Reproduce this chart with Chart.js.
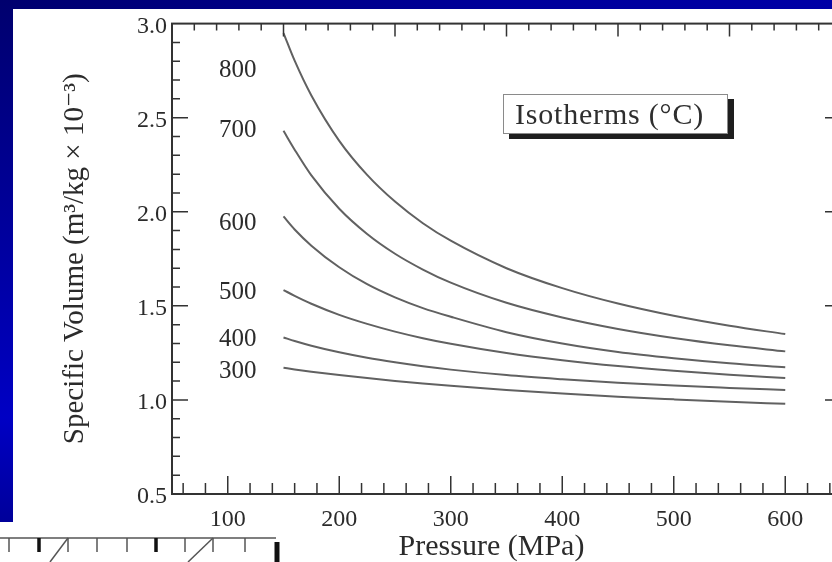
<!DOCTYPE html>
<html>
<head>
<meta charset="utf-8">
<script src="https://cdn.jsdelivr.net/npm/chart.js@4"></script>
<style>
  html, body { margin: 0; padding: 0; }
  body { width: 832px; height: 562px; overflow: hidden; position: relative; background: #fff; }
  .band-top { position: absolute; left: 0; top: 0; width: 832px; height: 9px;
    background: linear-gradient(to right, #00006e, #00009a 60%, #0000a6); }
  .band-left { position: absolute; left: 0; top: 0; width: 13px; height: 522px;
    background: linear-gradient(to bottom, #00006e, #0000a8 55%, #0000c4 80%, #00009a); }
  #chart { position: absolute; left: 13px; top: 9px; }
  .key { position: absolute; left: 503px; top: 94px; width: 225px; height: 40px; box-sizing: border-box;
    padding-right: 12px; border: 1.5px solid #8a8a8a; background: #fff; box-shadow: 6px 5px 0 #1e1e1e;
    font: 30px "Liberation Serif", serif; letter-spacing: 0.8px; color: #2e2e2e;
    line-height: 37px; text-align: center; white-space: nowrap; }
  .ruler { position: absolute; left: 0; top: 530px; }
</style>
</head>
<body>
<div class="band-top"></div>
<div class="band-left"></div>
<canvas id="chart" width="830" height="553"></canvas>
<div class="key">Isotherms (°C)</div>
<svg class="ruler" width="290" height="32" viewBox="0 0 290 32">
  <g stroke="#555" stroke-width="1.5" fill="none">
    <line x1="0" y1="8" x2="276" y2="8"/>
    <line x1="9" y1="8" x2="9" y2="22"/>
    <line x1="68" y1="8" x2="68" y2="22"/>
    <line x1="97" y1="8" x2="97" y2="22"/>
    <line x1="127" y1="8" x2="127" y2="22"/>
    <line x1="185" y1="8" x2="185" y2="22"/>
    <line x1="213" y1="8" x2="213" y2="22"/>
    <line x1="245" y1="8" x2="245" y2="22"/>
    <line x1="50" y1="32" x2="68" y2="8"/>
    <line x1="188" y1="32" x2="213" y2="8"/>
  </g>
  <g stroke="#111" fill="none">
    <line x1="39" y1="8" x2="39" y2="22" stroke-width="3.5"/>
    <line x1="156" y1="8" x2="156" y2="22" stroke-width="3.5"/>
    <line x1="277" y1="12" x2="277" y2="32" stroke-width="5"/>
  </g>
</svg>
<script>
// pressure in MPa
const pressures = [150, 160, 175, 200, 225, 250, 275, 300, 350, 400, 450, 500, 550, 600];
// isotherm temperatures (°C)
const temps = [800, 700, 600, 500, 400, 300];
// specific volume, m3/kg x 10^-3
const v800 = [2.95, 2.803, 2.618, 2.377, 2.196, 2.054, 1.939, 1.846, 1.70, 1.594, 1.512, 1.447, 1.394, 1.35];
const v700 = [2.43, 2.33, 2.193, 2.016, 1.882, 1.777, 1.693, 1.623, 1.516, 1.438, 1.377, 1.329, 1.29, 1.258];
const v600 = [1.975, 1.906, 1.82, 1.705, 1.615, 1.545, 1.488, 1.442, 1.36, 1.30, 1.255, 1.222, 1.195, 1.174];
const v500 = [1.584, 1.553, 1.511, 1.452, 1.404, 1.363, 1.328, 1.298, 1.249, 1.211, 1.18, 1.155, 1.134, 1.116];
const v400 = [1.332, 1.313, 1.288, 1.253, 1.224, 1.20, 1.179, 1.161, 1.132, 1.11, 1.091, 1.076, 1.064, 1.053];
const v300 = [1.171, 1.162, 1.15, 1.132, 1.116, 1.101, 1.087, 1.075, 1.053, 1.034, 1.017, 1.003, 0.99, 0.979];
// where each isotherm's name sits (pressure, volume)
const labelP = 109;
const labelV = [2.75, 2.43, 1.94, 1.57, 1.32, 1.15];
// tick labels
const xTicks = [100, 200, 300, 400, 500, 600];
const yTicks = [0.5, 1.0, 1.5, 2.0, 2.5, 3.0];

const serif = '"Liberation Serif", "DejaVu Serif", serif';
const ink = '#2b2b2b';
const series = [v800, v700, v600, v500, v400, v300];

// box frame with inward minor/major ticks, plus the isotherm names
const frame = {
  id: 'frame',
  afterDraw(chart) {
    const { ctx, chartArea: a, scales: { x, y } } = chart;
    ctx.save();
    ctx.strokeStyle = '#333';
    ctx.lineWidth = 2;
    ctx.strokeRect(a.left, a.top, a.right - a.left, a.bottom - a.top);
    ctx.lineWidth = 1.5;
    ctx.beginPath();
    for (let p = 60; p < 650; p += 20) {
      const px = x.getPixelForValue(p);
      const len = p % 100 === 0 ? 18 : 11;
      ctx.moveTo(px, a.bottom);
      ctx.lineTo(px, a.bottom - len);
    }
    for (let p = 70; p < 650; p += 20) {
      const px = x.getPixelForValue(p);
      const len = (p - 50) % 100 === 0 ? 13 : 7;
      ctx.moveTo(px, a.top);
      ctx.lineTo(px, a.top + len);
    }
    for (let i = 6; i < 30; i++) {
      const py = y.getPixelForValue(i / 10);
      const major = i % 5 === 0;
      ctx.moveTo(a.left, py);
      ctx.lineTo(a.left + (major ? 16 : 8), py);
      ctx.moveTo(a.right, py);
      ctx.lineTo(a.right - (major ? 16 : 8), py);
    }
    ctx.stroke();

    ctx.fillStyle = ink;
    ctx.font = '25px ' + serif;
    ctx.textAlign = 'center';
    ctx.textBaseline = 'middle';
    temps.forEach((t, i) => {
      ctx.fillText(String(t), x.getPixelForValue(labelP), y.getPixelForValue(labelV[i]));
    });
    ctx.restore();
  }
};

new Chart(document.getElementById('chart'), {
  type: 'line',
  data: {
    datasets: temps.map((t, i) => ({
      label: t + ' °C',
      data: pressures.map((p, j) => ({ x: p, y: series[i][j] })),
      borderColor: '#616161',
      borderWidth: 2,
      pointRadius: 0,
      fill: false,
      cubicInterpolationMode: 'monotone'
    }))
  },
  options: {
    responsive: false,
    animation: false,
    layout: { padding: { top: 10, right: 2, bottom: 0, left: 0 } },
    plugins: { legend: { display: false }, tooltip: { enabled: false } },
    scales: {
      x: {
        type: 'linear',
        min: 50,
        max: 650,
        grid: { display: false, drawTicks: false },
        border: { display: false },
        afterBuildTicks: s => { s.ticks = xTicks.map(v => ({ value: v })); },
        afterFit: s => { s.height = 68; },
        ticks: { padding: 11, color: ink, font: { family: serif, size: 24 } },
        title: {
          display: true,
          // trailing em space nudges the centred title a little to the left
          text: 'Pressure (MPa)\u2003',
          color: ink,
          font: { family: serif, size: 30, lineHeight: 1 },
          padding: { top: 0, bottom: 0 }
        }
      },
      y: {
        type: 'linear',
        min: 0.5,
        max: 3.0,
        grid: { display: false, drawTicks: false },
        border: { display: false },
        afterBuildTicks: s => { s.ticks = yTicks.map(v => ({ value: v })); },
        afterFit: s => { s.width = 159; },
        ticks: {
          padding: 5,
          labelOffset: 3,
          color: ink,
          font: { family: serif, size: 24, lineHeight: 0.8 },
          callback: v => Number(v).toFixed(1)
        },
        title: {
          display: true,
          text: 'Specific Volume (m³/kg × 10⁻³)',
          color: ink,
          font: { family: serif, size: 29 },
          padding: { top: 45, bottom: 0 }
        }
      }
    }
  },
  plugins: [frame]
});
</script>
</body>
</html>
